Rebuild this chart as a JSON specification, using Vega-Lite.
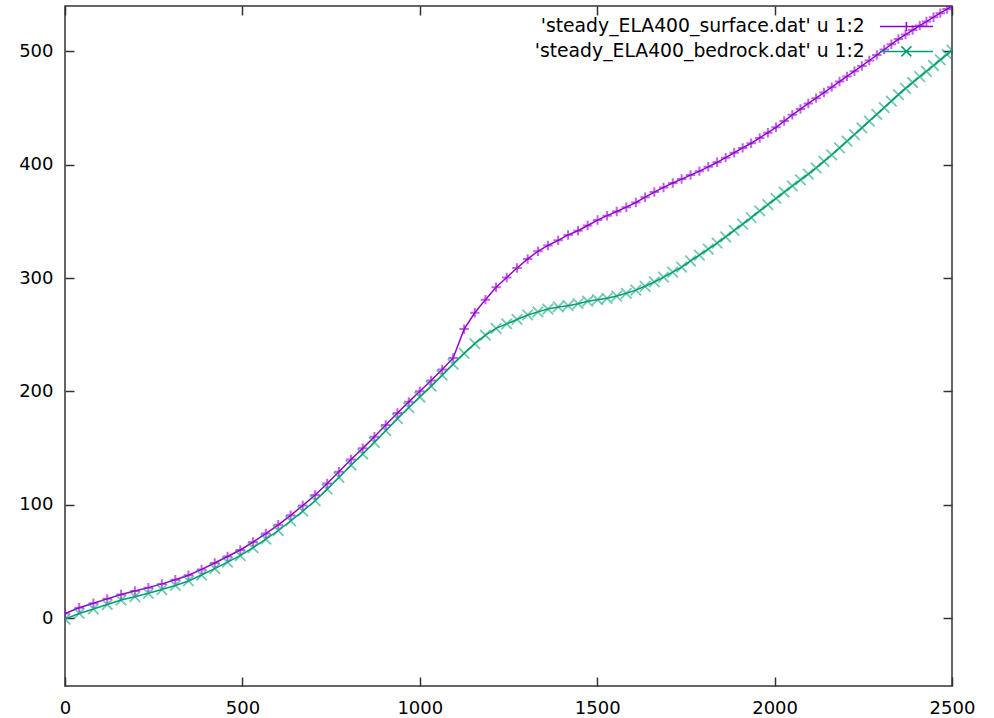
{
  "$schema": "https://vega.github.io/schema/vega-lite/v6.json",
  "width": 887,
  "height": 680,
  "autosize": "none",
  "padding": {"left": 65, "top": 6, "right": 42, "bottom": 32},
  "background": "white",
  "config": {
    "font": "DejaVu Sans",
    "view": {"stroke": "#333333", "strokeWidth": 1.5},
    "axis": {"domain": false, "grid": false, "title": null, "labelFontSize": 18, "labelColor": "#000000", "tickColor": "#333333", "tickWidth": 1.5, "tickSize": 9, "offset": -9, "labelFlush": false, "format": "d"}
  },
  "data": {"values": [
    {"s":"surface","x":0,"y":4},{"s":"surface","x":40,"y":9},{"s":"surface","x":80,"y":13},{"s":"surface","x":119,"y":16.9},{"s":"surface","x":158,"y":20.8},{"s":"surface","x":197,"y":23.8},{"s":"surface","x":235,"y":26.8},{"s":"surface","x":273,"y":30.1},{"s":"surface","x":311,"y":33.7},{"s":"surface","x":348,"y":37.7},{"s":"surface","x":385,"y":42.9},{"s":"surface","x":422,"y":48.5},{"s":"surface","x":458,"y":54.3},{"s":"surface","x":494,"y":60},{"s":"surface","x":530,"y":67},{"s":"surface","x":566,"y":74.5},{"s":"surface","x":601,"y":82.2},{"s":"surface","x":636,"y":90.6},{"s":"surface","x":670,"y":99.2},{"s":"surface","x":705,"y":108.5},{"s":"surface","x":739,"y":118.7},{"s":"surface","x":772,"y":129},{"s":"surface","x":806,"y":139.8},{"s":"surface","x":839,"y":149.7},{"s":"surface","x":872,"y":160},{"s":"surface","x":904,"y":170.3},{"s":"surface","x":937,"y":180.9},{"s":"surface","x":969,"y":190.7},{"s":"surface","x":1000,"y":200},{"s":"surface","x":1032,"y":209.6},{"s":"surface","x":1063,"y":219.2},{"s":"surface","x":1094,"y":229.5},{"s":"surface","x":1125,"y":254.9},{"s":"surface","x":1155,"y":269.3},{"s":"surface","x":1185,"y":280.9},{"s":"surface","x":1215,"y":291.9},{"s":"surface","x":1245,"y":300.5},{"s":"surface","x":1274,"y":308.8},{"s":"surface","x":1304,"y":316.8},{"s":"surface","x":1333,"y":323.6},{"s":"surface","x":1361,"y":328.7},{"s":"surface","x":1390,"y":333.2},{"s":"surface","x":1418,"y":338},{"s":"surface","x":1446,"y":341.7},{"s":"surface","x":1473,"y":346.3},{"s":"surface","x":1501,"y":351.1},{"s":"surface","x":1528,"y":355},{"s":"surface","x":1555,"y":358.7},{"s":"surface","x":1582,"y":362.5},{"s":"surface","x":1609,"y":366.6},{"s":"surface","x":1635,"y":371.3},{"s":"surface","x":1661,"y":375.8},{"s":"surface","x":1687,"y":379.9},{"s":"surface","x":1713,"y":383.8},{"s":"surface","x":1738,"y":387.3},{"s":"surface","x":1763,"y":390.8},{"s":"surface","x":1788,"y":394.3},{"s":"surface","x":1813,"y":398.1},{"s":"surface","x":1838,"y":402.1},{"s":"surface","x":1862,"y":406.2},{"s":"surface","x":1886,"y":410.5},{"s":"surface","x":1910,"y":414.8},{"s":"surface","x":1934,"y":418.9},{"s":"surface","x":1958,"y":423.6},{"s":"surface","x":1981,"y":428.2},{"s":"surface","x":2004,"y":433},{"s":"surface","x":2027,"y":438.5},{"s":"surface","x":2050,"y":444},{"s":"surface","x":2073,"y":449.1},{"s":"surface","x":2095,"y":454},{"s":"surface","x":2117,"y":458.7},{"s":"surface","x":2139,"y":463.6},{"s":"surface","x":2161,"y":468.4},{"s":"surface","x":2183,"y":473.3},{"s":"surface","x":2204,"y":477.9},{"s":"surface","x":2225,"y":482.5},{"s":"surface","x":2246,"y":487.1},{"s":"surface","x":2267,"y":491.9},{"s":"surface","x":2288,"y":496.7},{"s":"surface","x":2309,"y":501.6},{"s":"surface","x":2329,"y":506.2},{"s":"surface","x":2349,"y":510.8},{"s":"surface","x":2369,"y":514.8},{"s":"surface","x":2389,"y":518.8},{"s":"surface","x":2409,"y":522.7},{"s":"surface","x":2428,"y":526.3},{"s":"surface","x":2448,"y":530.1},{"s":"surface","x":2467,"y":533.7},{"s":"surface","x":2486,"y":537.3},{"s":"surface","x":2500,"y":540},
    {"s":"bedrock","x":0,"y":-1},{"s":"bedrock","x":40,"y":4},{"s":"bedrock","x":80,"y":8},{"s":"bedrock","x":119,"y":11.9},{"s":"bedrock","x":158,"y":15.8},{"s":"bedrock","x":197,"y":18.8},{"s":"bedrock","x":235,"y":21.8},{"s":"bedrock","x":273,"y":25.1},{"s":"bedrock","x":311,"y":28.7},{"s":"bedrock","x":348,"y":32.7},{"s":"bedrock","x":385,"y":37.9},{"s":"bedrock","x":422,"y":43.5},{"s":"bedrock","x":458,"y":49.3},{"s":"bedrock","x":494,"y":55},{"s":"bedrock","x":530,"y":62},{"s":"bedrock","x":566,"y":69.5},{"s":"bedrock","x":601,"y":77.2},{"s":"bedrock","x":636,"y":85.6},{"s":"bedrock","x":670,"y":94.2},{"s":"bedrock","x":705,"y":103.5},{"s":"bedrock","x":739,"y":113.7},{"s":"bedrock","x":772,"y":124},{"s":"bedrock","x":806,"y":134.8},{"s":"bedrock","x":839,"y":144.7},{"s":"bedrock","x":872,"y":155},{"s":"bedrock","x":904,"y":165.3},{"s":"bedrock","x":937,"y":175.9},{"s":"bedrock","x":969,"y":185.7},{"s":"bedrock","x":1000,"y":195},{"s":"bedrock","x":1032,"y":204.6},{"s":"bedrock","x":1063,"y":214.2},{"s":"bedrock","x":1094,"y":224},{"s":"bedrock","x":1125,"y":233.5},{"s":"bedrock","x":1155,"y":242.1},{"s":"bedrock","x":1185,"y":249.5},{"s":"bedrock","x":1215,"y":255.5},{"s":"bedrock","x":1245,"y":259.5},{"s":"bedrock","x":1274,"y":263.4},{"s":"bedrock","x":1304,"y":267.4},{"s":"bedrock","x":1333,"y":270.1},{"s":"bedrock","x":1361,"y":272.6},{"s":"bedrock","x":1390,"y":274.5},{"s":"bedrock","x":1418,"y":275.6},{"s":"bedrock","x":1446,"y":277.3},{"s":"bedrock","x":1473,"y":279.5},{"s":"bedrock","x":1501,"y":280.9},{"s":"bedrock","x":1528,"y":282.1},{"s":"bedrock","x":1555,"y":284.1},{"s":"bedrock","x":1582,"y":286.5},{"s":"bedrock","x":1609,"y":289.3},{"s":"bedrock","x":1635,"y":292.7},{"s":"bedrock","x":1661,"y":296.5},{"s":"bedrock","x":1687,"y":300.7},{"s":"bedrock","x":1713,"y":305.2},{"s":"bedrock","x":1738,"y":309.6},{"s":"bedrock","x":1763,"y":315.1},{"s":"bedrock","x":1788,"y":320.2},{"s":"bedrock","x":1813,"y":325.5},{"s":"bedrock","x":1838,"y":330.8},{"s":"bedrock","x":1862,"y":336.3},{"s":"bedrock","x":1886,"y":342},{"s":"bedrock","x":1910,"y":347.5},{"s":"bedrock","x":1934,"y":353.3},{"s":"bedrock","x":1958,"y":359.2},{"s":"bedrock","x":1981,"y":364.7},{"s":"bedrock","x":2004,"y":370.2},{"s":"bedrock","x":2027,"y":375.7},{"s":"bedrock","x":2050,"y":381.2},{"s":"bedrock","x":2073,"y":386.6},{"s":"bedrock","x":2095,"y":391.7},{"s":"bedrock","x":2117,"y":397.1},{"s":"bedrock","x":2139,"y":402.9},{"s":"bedrock","x":2161,"y":408.7},{"s":"bedrock","x":2183,"y":414.8},{"s":"bedrock","x":2204,"y":420.7},{"s":"bedrock","x":2225,"y":426.6},{"s":"bedrock","x":2246,"y":432.5},{"s":"bedrock","x":2267,"y":438.5},{"s":"bedrock","x":2288,"y":444.4},{"s":"bedrock","x":2309,"y":450.4},{"s":"bedrock","x":2329,"y":456.1},{"s":"bedrock","x":2349,"y":461.8},{"s":"bedrock","x":2369,"y":467.3},{"s":"bedrock","x":2389,"y":472.5},{"s":"bedrock","x":2409,"y":477.6},{"s":"bedrock","x":2428,"y":482.4},{"s":"bedrock","x":2448,"y":487.5},{"s":"bedrock","x":2467,"y":492.5},{"s":"bedrock","x":2486,"y":497.4},{"s":"bedrock","x":2500,"y":501}
  ]},
  "layer": [
    {
      "mark": {"type": "line", "strokeWidth": 1.5, "clip": true},
      "encoding": {
        "x": {"field": "x", "type": "quantitative", "scale": {"domain": [0, 2500], "nice": false, "zero": false},
              "axis": {"orient": "bottom", "values": [0, 500, 1000, 1500, 2000, 2500], "labelPadding": 13}},
        "y": {"field": "y", "type": "quantitative", "scale": {"domain": [-60, 540], "nice": false, "zero": false},
              "axis": {"orient": "left", "values": [0, 100, 200, 300, 400, 500], "labelPadding": 12}},
        "color": {"field": "s", "type": "nominal",
                  "scale": {"domain": ["surface", "bedrock"], "range": ["#9400D3", "#009E73"]},
                  "legend": {
                    "orient": "none", "legendX": 832, "legendY": 11, "title": null,
                    "labelFontSize": 18.8, "labelColor": "#000000", "labelAlign": "right", "labelOffset": -51, "labelLimit": 1000,
                    "symbolSize": 100, "symbolStrokeWidth": 1.5, "rowPadding": 5, "symbolType": "stroke",
                    "labelExpr": "\"'steady_ELA400_\" + datum.value + \".dat' u 1:2\"",
                    "encode": {"symbols": {"update": {
                      "shape": {"signal": "datum.value === 'surface' ? 'M-5.3,0H5.3M0,-0.9V0.9' : 'M-5.3,0H5.3M-1,-1L1,1M-1,1L1,-1'"},
                      "fill": {"value": "transparent"},
                      "strokeWidth": {"value": 1.5}
                    }}}
                  }}
      }
    },
    {
      "transform": [{"filter": "datum.s === 'surface'"}],
      "mark": {"type": "point", "filled": false, "size": 110, "strokeWidth": 2, "opacity": 0.6, "clip": true, "shape": "M-0.9,0H0.9M0,-0.9V0.9"},
      "encoding": {
        "x": {"field": "x", "type": "quantitative", "axis": {"orient": "top", "values": [0, 500, 1000, 1500, 2000, 2500], "labels": false}},
        "y": {"field": "y", "type": "quantitative", "axis": {"orient": "right", "values": [0, 100, 200, 300, 400, 500], "labels": false}},
        "color": {"field": "s", "type": "nominal"}
      }
    },
    {
      "transform": [{"filter": "datum.s === 'bedrock'"}],
      "mark": {"type": "point", "filled": false, "size": 110, "strokeWidth": 1.8, "opacity": 0.55, "clip": true, "shape": "M-1,-1L1,1M-1,1L1,-1"},
      "encoding": {
        "x": {"field": "x", "type": "quantitative", "axis": null},
        "y": {"field": "y", "type": "quantitative", "axis": null},
        "color": {"field": "s", "type": "nominal"}
      }
    }
  ],
  "resolve": {"axis": {"x": "independent", "y": "independent"}}
}
